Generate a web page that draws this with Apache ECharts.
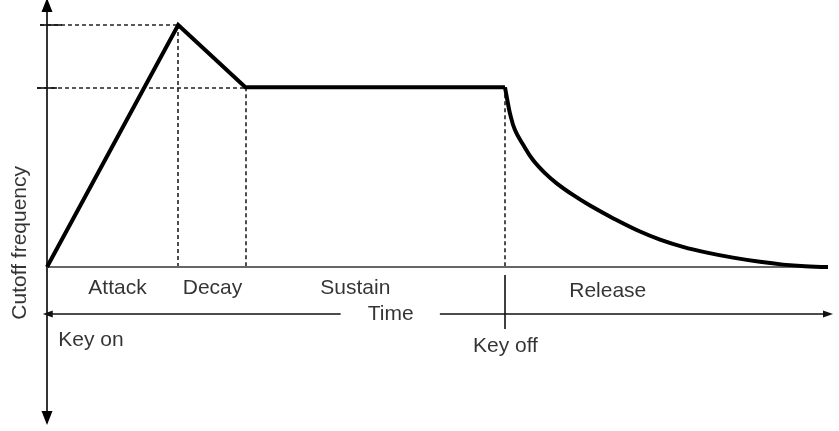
<!DOCTYPE html>
<html>
<head>
<meta charset="utf-8">
<script src="https://cdn.jsdelivr.net/npm/echarts@6/dist/echarts.min.js"></script>
<style>
html,body{margin:0;padding:0;background:#fff;}
#c{width:839px;height:431px;}
</style>
</head>
<body>
<div id="c"></div>
<script>
// ---- Data (time in % of total span, level normalised to peak = 1) ----
var envelopeTime  = [0, 16.8, 25.4, 58.64];
var envelopeLevel = [0, 1.0, 0.743, 0.743];

var releaseTime  = [58.64, 58.94, 59.28, 59.92, 60.99, 62.23, 63.76, 65.26, 67.35, 69.53, 72.47, 75.93, 78.49, 81.43, 84.51, 87.84, 91.29, 94.24, 97.05, 100];
var releaseLevel = [0.743, 0.690, 0.635, 0.566, 0.504, 0.442, 0.388, 0.346, 0.298, 0.254, 0.202, 0.1467, 0.1136, 0.0835, 0.0595, 0.0388, 0.0215, 0.0099, 0.0033, 0];

var peakLevel = 1.0, sustainLevel = 0.743;
var attackEnd = 16.8, decayEnd = 25.4, keyOff = 58.64, timeEnd = 100;

var phaseLabels = ['Attack', 'Decay', 'Sustain', 'Release'];
var phaseX      = [9.03, 21.19, 39.48, 71.8];
var phaseY      = [-0.087, -0.087, -0.087, -0.099];

var markerLabels = ['Key on', 'Key off', 'Time'];
var markerX      = [5.63, 58.7, 44.0];
var markerY      = [-0.302, -0.327, -0.194];

var yAxisTitle = 'Cutoff frequency';
var yTitleX = -3.46, yTitleY = 0.10;

var timeArrowY = -0.194;
var timeGapStart = 37.6, timeGapEnd = 50.3;
var keyOffTickTop = -0.033, keyOffTickBottom = -0.256;
</script>
<script>
var chart = echarts.init(document.getElementById('c'), null, {renderer: 'canvas'});
var FONT = 'Liberation Sans, Arial, sans-serif';

function pts(xs, ys){ return xs.map(function(x,i){ return [x, ys[i]]; }); }
function seg(x1,y1,x2,y2,style,sym1,sym2){
  return [
    {coord:[x1,y1], symbol: sym1 || 'none'},
    {coord:[x2,y2], symbol: sym2 || 'none', lineStyle: style}
  ];
}

var dashed = {type:[4,3], color:'#222', width:1.6};
var solidThin = {type:'solid', color:'#111', width:1.6};
var baseStyle = {type:'solid', color:'#666', width:2};
var arrowStyle = {type:'solid', color:'#111', width:1.6};

var guideLines = [
  seg(-0.9, peakLevel, attackEnd, peakLevel, dashed),
  seg(-0.9, peakLevel, 1.92, peakLevel, solidThin),
  seg(-1.28, sustainLevel, decayEnd, sustainLevel, dashed),
  seg(-1.28, sustainLevel, 1.28, sustainLevel, solidThin),
  seg(attackEnd, peakLevel, attackEnd, 0, dashed),
  seg(decayEnd, sustainLevel, decayEnd, 0, dashed),
  seg(keyOff, sustainLevel, keyOff, 0, dashed),
  seg(0, 0, timeEnd, 0, baseStyle),
  seg(keyOff, keyOffTickTop, keyOff, keyOffTickBottom, solidThin),
  seg(0.1, timeArrowY, timeGapStart, timeArrowY, arrowStyle, 'triangle', 'none'),
  seg(timeGapEnd, timeArrowY, timeEnd, timeArrowY, arrowStyle, 'none', 'triangle')
];

var labelData = [];
phaseLabels.forEach(function(t,i){ labelData.push({value:[phaseX[i], phaseY[i]], name:t}); });
markerLabels.forEach(function(t,i){ labelData.push({value:[markerX[i], markerY[i]], name:t}); });
labelData.push({value:[yTitleX, yTitleY], name:yAxisTitle, label:{rotate:90}});

var option = {
  animation: false,
  backgroundColor: '#fff',
  grid: {left: 7.95, right: 11, top: 5, bottom: 13},
  xAxis: {
    type: 'value', min: -5, max: 100,
    axisLine: {show: false}, axisTick: {show: false},
    axisLabel: {show: false}, splitLine: {show: false}
  },
  yAxis: {
    type: 'value', min: -0.624, max: 1.083,
    axisLine: {show: true, onZero: true, lineStyle: {color: '#000', width: 1.6},
               symbol: ['triangle', 'triangle'], symbolSize: [11, 14]},
    axisTick: {show: false}, axisLabel: {show: false}, splitLine: {show: false}
  },
  series: [
    {
      type: 'line', data: pts(envelopeTime, envelopeLevel),
      symbol: 'none', clip: false,
      lineStyle: {color: '#000', width: 4, join: 'miter'},
      z: 5,
      markLine: {
        silent: true, symbol: 'none', symbolSize: [7, 10],
        label: {show: false}, emphasis: {disabled: true},
        data: guideLines
      }
    },
    {
      type: 'line', data: pts(releaseTime, releaseLevel),
      symbol: 'none', smooth: 0.4, clip: false,
      lineStyle: {color: '#000', width: 4},
      z: 5
    },
    {
      type: 'scatter', data: labelData, symbolSize: 0, clip: false,
      label: {
        show: true, position: 'inside', formatter: '{b}',
        color: '#000', fontSize: 21, fontFamily: FONT
      },
      z: 6
    }
  ]
};
chart.setOption(option);
</script>
</body>
</html>
